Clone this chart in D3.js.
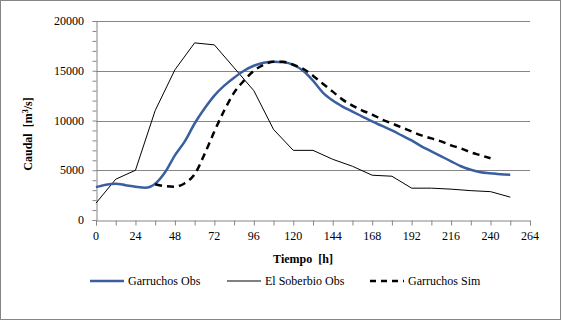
<html>
<head>
<script src="https://cdn.jsdelivr.net/npm/d3@7"></script>
<style>
	body { margin: 0; background: white; }
</style>
</head>
<body>
<div id="svg"></div>
<script>
/* x ticks [h] */
var xTicks = [0, 24, 48, 72, 96, 120, 144, 168, 192, 216, 240, 264];
var yTicks = [0, 5000, 10000, 15000, 20000];

/* Garruchos Obs, every 6 h */
var garruchosObsHours = [0, 6, 12, 18, 24, 30, 36, 42, 48, 54, 60, 66, 72, 78, 84, 90, 96, 102, 108, 114, 120, 126, 132, 138, 144, 150, 156, 162, 168, 174, 180, 186, 192, 198, 204, 210, 216, 222, 228, 234, 240, 246, 252];
var garruchosObs = [3300, 3550, 3650, 3500, 3350, 3250, 3650, 4800, 6500, 7900, 9700, 11200, 12500, 13500, 14300, 15000, 15500, 15800, 15900, 15850, 15600, 15000, 14000, 12800, 12000, 11400, 10900, 10400, 9900, 9450, 9000, 8500, 8000, 7400, 6900, 6400, 5900, 5400, 5050, 4800, 4700, 4600, 4550];

/* El Soberbio Obs, every 12 h */
var soberbioHours = [0, 12, 24, 36, 48, 60, 72, 84, 96, 108, 120, 132, 144, 156, 168, 180, 192, 204, 216, 228, 240, 252];
var soberbioObs = [1700, 4100, 5000, 11000, 15100, 17800, 17600, 15300, 13000, 9100, 7000, 7000, 6100, 5400, 4500, 4400, 3200, 3200, 3100, 2950, 2850, 2300];

/* Garruchos Sim, every 6 h */
var garruchosSimHours = [36, 42, 48, 54, 60, 66, 72, 78, 84, 90, 96, 102, 108, 114, 120, 126, 132, 138, 144, 150, 156, 162, 168, 174, 180, 186, 192, 198, 204, 210, 216, 222, 228, 234, 240];
var garruchosSim = [3600, 3400, 3350, 3700, 4600, 6600, 8900, 11000, 12800, 14000, 15000, 15600, 15900, 15900, 15600, 15200, 14500, 13700, 12900, 12100, 11500, 11000, 10600, 10100, 9700, 9300, 8900, 8500, 8200, 7900, 7500, 7200, 6800, 6500, 6200];

var W = 562, H = 321;
var m = { left: 96, right: 32, top: 21, bottom: 101 };
var serif = "'Liberation Serif', 'Times New Roman', 'DejaVu Serif', serif";

var svg = d3.select("#svg").append("svg")
	.attr("width", W)
	.attr("height", H)
	.attr("font-family", serif);

svg.append("rect")
	.attr("x", 0.5).attr("y", 0.5)
	.attr("width", W - 2).attr("height", H - 2)
	.attr("fill", "white")
	.attr("stroke", "#868686");

var x = d3.scaleLinear().domain([0, 264]).range([m.left, W - m.right]);
var y = d3.scaleLinear().domain([0, 20000]).range([H - m.bottom, m.top]);

/* gridlines */
svg.append("g").selectAll("line")
	.data(yTicks.slice(1))
	.enter().append("line")
	.attr("x1", x(0)).attr("x2", x(264))
	.attr("y1", function(d) { return Math.round(y(d)) + 0.5; })
	.attr("y2", function(d) { return Math.round(y(d)) + 0.5; })
	.attr("stroke", "#868686");

/* minor ticks */
var yMinor = d3.range(0, 20001, 1000);
var xMinor = d3.range(0, 265, 12);

var yAxis = svg.append("g")
	.attr("transform", "translate(" + (x(0) + 0.5) + ",0)")
	.call(d3.axisLeft(y).tickValues(yMinor).tickSize(4).tickFormat(""));
var xAxis = svg.append("g")
	.attr("transform", "translate(0," + (Math.round(y(0)) + 0.5) + ")")
	.call(d3.axisBottom(x).tickValues(xMinor).tickSize(5).tickFormat(""));

[yAxis, xAxis].forEach(function(a) {
	a.select(".domain").attr("stroke", "#868686");
	a.selectAll(".tick line").attr("stroke", "#868686");
});

svg.append("g").selectAll("text")
	.data(yTicks)
	.enter().append("text")
	.attr("x", 84)
	.attr("y", function(d) { return y(d); })
	.attr("dy", "0.35em")
	.attr("text-anchor", "end")
	.attr("font-family", serif)
	.style("font-size", "12px")
	.text(function(d) { return d; });

svg.append("g").selectAll("text")
	.data(xTicks)
	.enter().append("text")
	.attr("x", function(d) { return x(d); })
	.attr("y", 240)
	.attr("text-anchor", "middle")
	.attr("font-family", serif)
	.style("font-size", "12px")
	.text(function(d) { return d; });

/* axis titles */
svg.append("text")
	.attr("x", 303).attr("y", 263)
	.attr("text-anchor", "middle")
	.attr("font-family", serif)
	.style("font-size", "12px")
	.style("font-weight", "bold")
	.attr("xml:space", "preserve")
	.text("Tiempo  [h]");

var yt = svg.append("text")
	.attr("transform", "translate(32,134) rotate(-90)")
	.attr("text-anchor", "middle")
	.attr("font-family", serif)
	.style("font-size", "12px")
	.style("font-weight", "bold")
	.attr("xml:space", "preserve");
yt.append("tspan").text("Caudal  [m");
yt.append("tspan").attr("dy", -4).style("font-size", "8px").text("3");
yt.append("tspan").attr("dy", 4).text("/s]");

/* series */
var series = [
	{ name: "El Soberbio Obs", hours: soberbioHours, values: soberbioObs, color: "black", width: 1, dash: null, curve: d3.curveLinear },
	{ name: "Garruchos Obs", hours: garruchosObsHours, values: garruchosObs, color: "#3A5FA0", width: 2.5, dash: null, curve: d3.curveMonotoneX },
	{ name: "Garruchos Sim", hours: garruchosSimHours, values: garruchosSim, color: "black", width: 2.5, dash: "7,5", curve: d3.curveMonotoneX }
];

series.forEach(function(s) {
	var line = d3.line()
		.x(function(d) { return x(d[0]); })
		.y(function(d) { return y(d[1]); })
		.curve(s.curve);
	svg.append("path")
		.datum(d3.zip(s.hours, s.values))
		.attr("d", line)
		.attr("fill", "none")
		.attr("stroke", s.color)
		.attr("stroke-width", s.width)
		.attr("stroke-dasharray", s.dash)
		.attr("stroke-linejoin", "round");
});

/* legend */
var legendItems = [
	{ label: "Garruchos Obs", x: 90, s: series[1] },
	{ label: "El Soberbio Obs", x: 227, s: series[0] },
	{ label: "Garruchos Sim", x: 370, s: series[2] }
];
var lg = svg.selectAll(".legend")
	.data(legendItems)
	.enter().append("g")
	.attr("transform", function(d) { return "translate(" + d.x + ",281)"; });
lg.append("line")
	.attr("x1", 0).attr("x2", 34)
	.attr("stroke", function(d) { return d.s.color; })
	.attr("stroke-width", function(d) { return d.s.width; })
	.attr("stroke-dasharray", function(d) { return d.s.dash ? "6,5" : null; });
lg.append("text")
	.attr("x", 38)
	.attr("dy", "0.35em")
	.attr("font-family", serif)
	.style("font-size", "12px")
	.text(function(d) { return d.label; });
</script>
</body>
</html>
